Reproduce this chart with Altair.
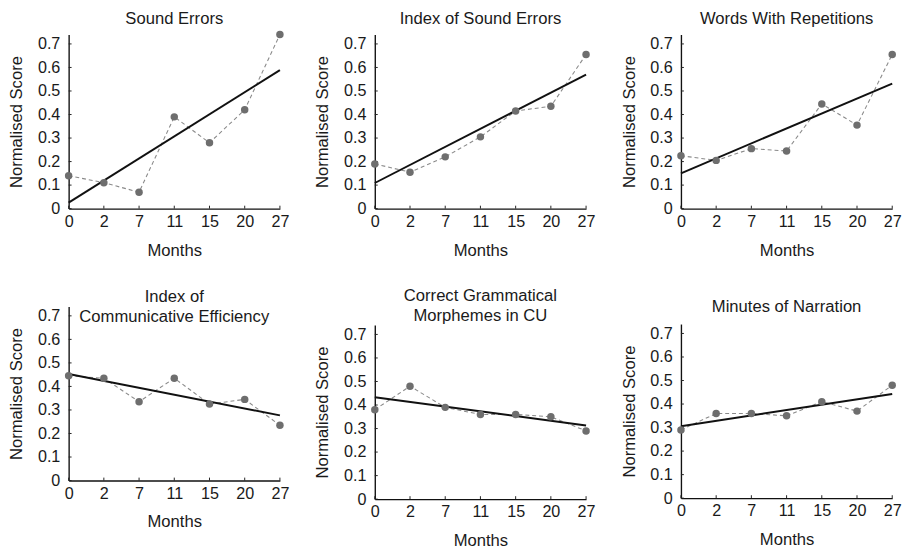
import altair as alt
import pandas as pd

MONTHS = ["0", "2", "7", "11", "15", "20", "27"]
Y_TICKS = [0.0, 0.1, 0.2, 0.3, 0.4, 0.5, 0.6, 0.7]

TITLES = [
    ["Sound Errors"],
    ["Index of Sound Errors"],
    ["Words With Repetitions"],
    ["Index of", "Communicative Efficiency"],
    ["Correct Grammatical", "Morphemes in CU"],
    ["Minutes of Narration"],
]

sound_errors = [0.14, 0.11, 0.07, 0.39, 0.28, 0.42, 0.74]
index_sound_errors = [0.19, 0.155, 0.22, 0.305, 0.415, 0.435, 0.655]
words_with_repetitions = [0.225, 0.205, 0.255, 0.245, 0.445, 0.355, 0.655]
index_comm_efficiency = [0.445, 0.435, 0.335, 0.435, 0.325, 0.345, 0.235]
correct_gram_morphemes = [0.38, 0.48, 0.39, 0.36, 0.36, 0.35, 0.29]
minutes_of_narration = [0.29, 0.36, 0.36, 0.35, 0.41, 0.37, 0.48]

FONT = "Liberation Sans, Arial, Helvetica, sans-serif"
TXT = "#1a1a1a"
W, H = 216, 178

label_expr = "[" + ",".join("'%s'" % m for m in MONTHS) + "][datum.value]"


def panel(values, title, title_offset=4):
    df = pd.DataFrame({"idx": list(range(len(MONTHS))), "score": values})
    x = alt.X(
        "idx:Q",
        scale=alt.Scale(domain=[0, len(MONTHS) - 1], nice=False, zero=False),
        axis=alt.Axis(
            values=list(range(len(MONTHS))),
            labelExpr=label_expr,
            labelFlush=False,
            title="Months",
            labelPadding=5,
            titlePadding=13,
        ),
    )
    y = alt.Y(
        "score:Q",
        scale=alt.Scale(domain=[0, 0.74], nice=False),
        axis=alt.Axis(
            values=Y_TICKS,
            format=".1~f",
            labelFlush=False,
            title="Normalised Score",
            labelPadding=9,
            titlePadding=12,
        ),
    )
    base = alt.Chart(df)
    dashed = base.mark_line(color="#8a8a8a", strokeDash=[4, 3], strokeWidth=1.1).encode(x=x, y=y)
    trend = (
        base.transform_regression("idx", "score")
        .mark_line(color="#111111", strokeWidth=2)
        .encode(x=x, y=y)
    )
    dots = base.mark_circle(color="#6e6e6e", size=58, opacity=1).encode(x=x, y=y)
    yticks = (
        alt.Chart(pd.DataFrame({"score": Y_TICKS}))
        .mark_rule(color="#222222", strokeWidth=1)
        .encode(y=y, x=alt.value(0), x2=alt.value(3))
    )
    xticks = (
        alt.Chart(pd.DataFrame({"idx": list(range(len(MONTHS)))}))
        .mark_rule(color="#222222", strokeWidth=1)
        .encode(x=x, y=alt.value(H), y2=alt.value(H - 3))
    )
    return alt.layer(yticks, xticks, dashed, trend, dots).properties(
        width=W,
        height=H,
        title=alt.TitleParams(
            text=title,
            fontSize=17,
            fontWeight="normal",
            font=FONT,
            color=TXT,
            anchor="middle",
            frame="group",
            lineHeight=21,
            offset=title_offset,
        ),
    )


p1 = panel(sound_errors, TITLES[0], title_offset=3)
p2 = panel(index_sound_errors, TITLES[1], title_offset=7)
p3 = panel(words_with_repetitions, TITLES[2], title_offset=7)
p4 = panel(index_comm_efficiency, TITLES[3], title_offset=-20)
p5 = panel(correct_gram_morphemes, TITLES[4], title_offset=0)
p6 = panel(minutes_of_narration, TITLES[5], title_offset=8)

col1 = alt.vconcat(p1, p4, spacing=30)
col2 = alt.vconcat(p2, p5, spacing=29)
col3 = alt.vconcat(p3, p6, spacing=41)

chart = (
    alt.hconcat(col1, col2, col3, spacing=25)
    .properties(padding={"left": 0, "top": -4, "right": 0, "bottom": 0})
    .configure_view(stroke=None)
    .configure_axis(
        grid=False,
        ticks=False,
        domainColor="#111111",
        domainWidth=1.4,
        labelFont=FONT,
        titleFont=FONT,
        labelFontSize=16.5,
        titleFontSize=17,
        titleFontWeight="normal",
        labelColor=TXT,
        titleColor=TXT,
    )
)

chart.save("out.html", embed_options={"renderer": "svg", "actions": False})
